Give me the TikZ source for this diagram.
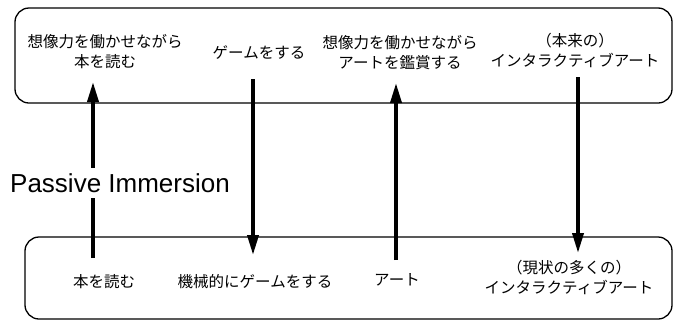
\documentclass[tikz,border=0pt]{standalone}
\usepackage{fontspec}
\setmainfont{Liberation Sans}
\newfontfamily\jpfont{Noto Sans CJK JP}
\usetikzlibrary{arrows.meta}
\tikzset{
  box/.style={draw, line width=1.3pt, rounded corners=14pt, inner sep=0pt},
  jp/.style={font=\jpfont\fontsize{15.5}{20}\selectfont, align=center, inner sep=0pt},
  bigarrow/.style={line width=3.6pt, -{Triangle[length=20pt,width=11pt]}},
}
\begin{document}
\begin{tikzpicture}[x=1pt,y=-1pt]
\useasboundingbox (0,0) rectangle (674,322);
% boxes
\node[box, minimum width=657pt, minimum height=95pt] (topbox) at (343.5,55.5) {};
\node[box, minimum width=647pt, minimum height=82pt] (botbox) at (348.5,278) {};
% top texts
\node[jp] (t1) at (105,52) {想像力を働かせながら\\本を読む};
\node[jp] (t2) at (259,53) {ゲームをする};
\node[jp] (t3) at (400,53) {想像力を働かせながら\\アートを鑑賞する};
\node[jp] (t4) at (575,50) {（本来の）\\インタラクティブアート};
% bottom texts
\node[jp] (b1) at (104,282) {本を読む};
\node[jp] (b2) at (255,282) {機械的にゲームをする};
\node[jp] (b3) at (397,280) {アート};
\node[jp] (b4) at (569,277) {（現状の多くの）\\インタラクティブアート};
% arrow end points
\coordinate (a1s) at (93,258);
\coordinate (a1e) at (93,82);
\coordinate (a2s) at (253,79);
\coordinate (a2e) at (253,255);
\coordinate (a3s) at (396,260);
\coordinate (a3e) at (396,83);
\coordinate (a4s) at (578,77);
\coordinate (a4e) at (578,253);
\draw[bigarrow] (a1s) -- (a1e);
\draw[bigarrow] (a2s) -- (a2e);
\draw[bigarrow] (a3s) -- (a3e);
\draw[bigarrow] (a4s) -- (a4e);
% label (opaque, interrupts the first arrow)
\node[font=\fontsize{26}{30}\selectfont, fill=white, inner xsep=1pt, inner ysep=5pt] (pi) at (120,183) {Passive Immersion};
\end{tikzpicture}
\end{document}
